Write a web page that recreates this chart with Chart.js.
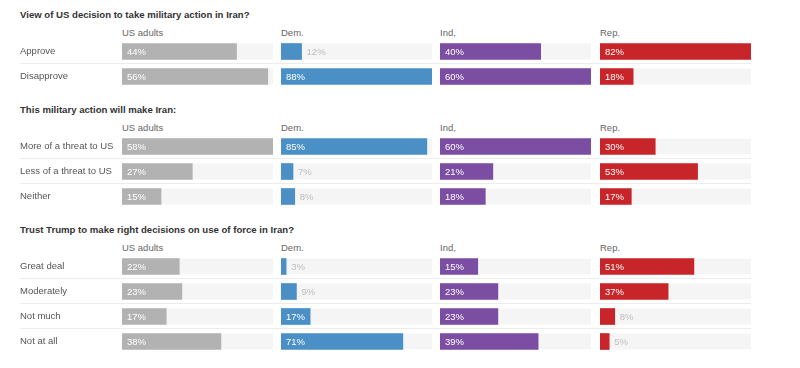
<!DOCTYPE html>
<html>
<head>
<meta charset="utf-8">
<script src="https://cdn.jsdelivr.net/npm/chart.js@4"></script>
<style>
  html, body { margin: 0; padding: 0; background: #fff; }
  #page { position: relative; width: 800px; height: 368px; overflow: hidden; font-family: "Liberation Sans", Arial, sans-serif; }
  .title { position: absolute; left: 20px; height: 12px; line-height: 12px; font-size: 9.6px; font-weight: bold; color: #333; white-space: nowrap; }
  .head { position: absolute; height: 12px; line-height: 12px; font-size: 9.5px; color: #666; white-space: nowrap; }
  .sep { position: absolute; left: 20px; width: 731px; height: 1px; background: #ececec; }
  canvas { position: absolute; }
</style>
</head>
<body>
<div id="page"></div>
<script>
const groups = ["US adults", "Dem.", "Ind,", "Rep."]
const colors = ["#b2b2b2", "#4a90c6", "#7b4ea3", "#c8252a"]

const decisionTitle = "View of US decision to take military action in Iran?"
const decisionRows = ["Approve", "Disapprove"]
const decisionUS = [44, 56]
const decisionDem = [12, 88]
const decisionInd = [40, 60]
const decisionRep = [82, 18]

const threatTitle = "This military action will make Iran:"
const threatRows = ["More of a threat to US", "Less of a threat to US", "Neither"]
const threatUS = [58, 27, 15]
const threatDem = [85, 7, 8]
const threatInd = [60, 21, 18]
const threatRep = [30, 53, 17]

const trustTitle = "Trust Trump to make right decisions on use of force in Iran?"
const trustRows = ["Great deal", "Moderately", "Not much", "Not at all"]
const trustUS = [22, 23, 17, 38]
const trustDem = [3, 9, 17, 71]
const trustInd = [15, 23, 23, 39]
const trustRep = [51, 37, 8, 5]

const sections = [
  { title: decisionTitle, rows: decisionRows, cols: [decisionUS, decisionDem, decisionInd, decisionRep] },
  { title: threatTitle, rows: threatRows, cols: [threatUS, threatDem, threatInd, threatRep] },
  { title: trustTitle, rows: trustRows, cols: [trustUS, trustDem, trustInd, trustRep] }
]

// each column scales to its largest value across all sections
const colMax = groups.map((g, c) => Math.max(...sections.flatMap(s => s.cols[c])))

const colLeft = [122, 281, 440, 600]
const colWidth = 151
const labelWidth = 102
const rowH = 25

Chart.defaults.font.family = '"Liberation Sans", Arial, sans-serif'
Chart.defaults.font.size = 9.5

const barDecor = {
  id: "barDecor",
  beforeDatasetsDraw(chart) {
    const { ctx, chartArea } = chart
    const meta = chart.getDatasetMeta(0)
    ctx.save()
    ctx.fillStyle = "#f5f5f5"
    meta.data.forEach(bar => {
      const { y, height } = bar.getProps(["y", "height"], true)
      ctx.fillRect(chartArea.left, y - height / 2, chartArea.right - chartArea.left, height)
    })
    ctx.restore()
  },
  afterDatasetsDraw(chart) {
    const { ctx } = chart
    const meta = chart.getDatasetMeta(0)
    const values = chart.data.datasets[0].data
    ctx.save()
    ctx.font = '9.5px "Liberation Sans", Arial, sans-serif'
    ctx.textBaseline = "middle"
    ctx.textAlign = "left"
    meta.data.forEach((bar, i) => {
      const { x, y, base } = bar.getProps(["x", "y", "base"], true)
      const txt = values[i] + "%"
      const w = ctx.measureText(txt).width
      if (x - base >= w + 9) {
        ctx.fillStyle = "#fff"
        ctx.fillText(txt, base + 5, y + 0.5)
      } else {
        ctx.fillStyle = "#bdbdbd"
        ctx.fillText(txt, x + 5, y + 0.5)
      }
    })
    ctx.restore()
  }
}

const page = document.getElementById("page")

function addDiv(cls, text, left, top) {
  const d = document.createElement("div")
  d.className = cls
  if (text) d.textContent = text
  if (left != null) d.style.left = left + "px"
  d.style.top = top + "px"
  page.appendChild(d)
  return d
}

let titleY = 15
sections.forEach(sec => {
  const n = sec.rows.length
  addDiv("title", sec.title, null, titleY - 6)
  groups.forEach((g, c) => addDiv("head", g, colLeft[c], titleY + 18 - 6))

  const top = titleY + 23.5
  for (let i = 1; i < n; i++) addDiv("sep", "", null, Math.round(top + i * rowH - 0.5))

  sec.cols.forEach((vals, c) => {
    const first = c === 0
    const canvas = document.createElement("canvas")
    const left = first ? 20 : colLeft[c]
    const width = first ? labelWidth + colWidth : colWidth
    canvas.width = width
    canvas.height = n * rowH
    canvas.style.left = left + "px"
    canvas.style.top = top + "px"
    canvas.style.width = width + "px"
    canvas.style.height = n * rowH + "px"
    page.appendChild(canvas)

    const yAxis = {
      display: first,
      grid: { display: false, drawTicks: false },
      border: { display: false },
      ticks: { color: "#555", crossAlign: "far", padding: 0, font: { size: 9.5 } }
    }
    if (first) {
      yAxis.afterFit = (scale) => {
        scale.width = labelWidth
        // row labels sit inside their slots, no extra room needed
        scale.paddingTop = 0
        scale.paddingBottom = 0
      }
    }

    new Chart(canvas.getContext("2d"), {
      type: "bar",
      data: {
        labels: sec.rows,
        datasets: [{
          data: vals,
          backgroundColor: colors[c],
          barThickness: 16,
          borderWidth: 0
        }]
      },
      options: {
        indexAxis: "y",
        responsive: false,
        animation: false,
        devicePixelRatio: 1,
        layout: { padding: 0 },
        plugins: { legend: { display: false }, tooltip: { enabled: false } },
        scales: {
          x: { display: false, min: 0, max: colMax[c] },
          y: yAxis
        }
      },
      plugins: [barDecor]
    })
  })

  titleY += 45 + rowH * n
})
</script>
</body>
</html>
